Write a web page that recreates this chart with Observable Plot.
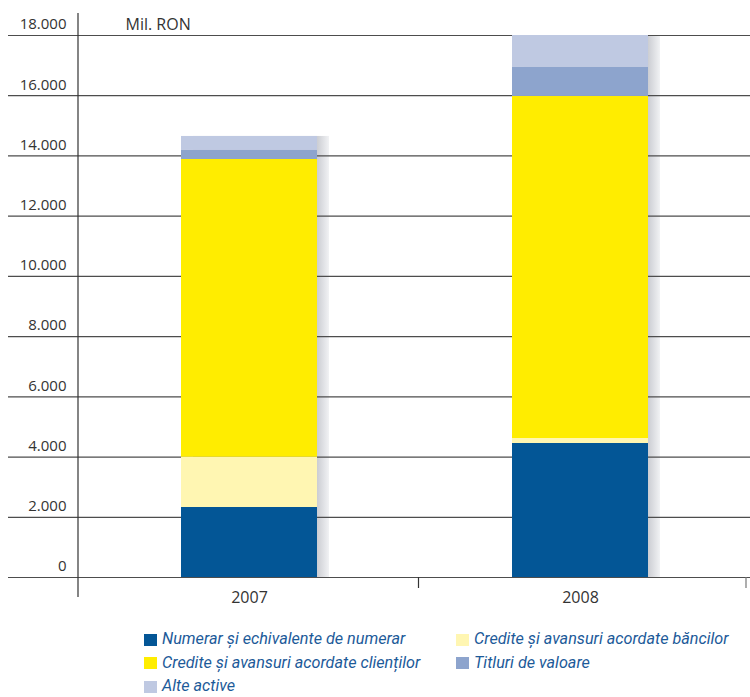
<!DOCTYPE html>
<html>
<head>
<meta charset="utf-8">
<script src="https://cdn.jsdelivr.net/npm/d3@7"></script>
<script src="https://cdn.jsdelivr.net/npm/@observablehq/plot@0.6"></script>
<style>
  html, body { margin: 0; padding: 0; background: #fff; }
  #wrap { position: relative; width: 750px; height: 697px; overflow: hidden; background: #fff; }
  .leg { position: absolute; display: flex; align-items: center; height: 13px; line-height: 1;
         font-family: Roboto, "Open Sans", sans-serif; font-style: italic; font-size: 16.2px; color: #1c5a99; white-space: nowrap; }
  .leg .sw { width: 13px; height: 12px; margin-right: 5px; flex: none; }
</style>
</head>
<body>
<div id="wrap"></div>
<script>
// ---- data ----
const years = ["2007", "2008"];
const seriesNames = [
  "Numerar și echivalente de numerar",
  "Credite și avansuri acordate băncilor",
  "Credite și avansuri acordate clienților",
  "Titluri de valoare",
  "Alte active"
];
const numerar = [2325, 4450];
const crediteBanci = [1670, 166];
const crediteClienti = [9887, 11359];
const titluri = [300, 963];
const alteActive = [465, 1062];
const seriesColors = ["#035696", "#FFF6B2", "#FFED00", "#8DA4CD", "#BFC9E2"];
const yTicks = [0, 2000, 4000, 6000, 8000, 10000, 12000, 14000, 16000, 18000];
const unitLabel = ["Mil. RON"];

// ---- build table ----
const seriesValues = [numerar, crediteBanci, crediteClienti, titluri, alteActive];
const table = seriesNames.flatMap((s, si) =>
  years.map((y, yi) => ({ year: y, series: s, value: seriesValues[si][yi] })));
const totals = years.map((y, yi) => ({ year: y, total: d3.sum(seriesValues, v => v[yi]) }));

const fmt = d3.formatLocale({ decimal: ",", thousands: ".", grouping: [3], currency: ["", ""] }).format(",");

const plot = Plot.plot({
  width: 750,
  height: 620,
  marginLeft: 80,
  marginRight: 0,
  marginTop: 35,
  marginBottom: 43,
  style: { fontFamily: "'Open Sans', sans-serif", fontSize: "16px", color: "#333", background: "transparent", overflow: "visible" },
  x: { domain: years, paddingInner: 0.589, paddingOuter: 0.305, label: null },
  y: { domain: [0, 18000], label: null },
  color: { domain: seriesNames, range: seriesColors },
  marks: [
    Plot.barY(totals, { x: "year", y: "total", dx: 12, fill: "url(#shadowGrad)" }),
    Plot.ruleY(yTicks, { stroke: "#4d4d4d", strokeWidth: 1.2, insetLeft: -72 }),
    Plot.barY(table, { x: "year", y: "value", fill: "series", order: seriesNames }),
    Plot.axisY({ ticks: yTicks, tickSize: 0, tickPadding: 14, tickFormat: fmt, dy: -11, label: null, fill: "#333", fontSize: 15 }),
    Plot.axisX({ tickSize: 0, tickPadding: 14, label: null, fill: "#333" }),
    Plot.text(unitLabel, { frameAnchor: "top-left", dx: 45, dy: -11, textAnchor: "start", lineAnchor: "middle", fill: "#333", fontSize: 16 })
  ]
});

// gradient for bar shadow + axis line and ticks
const svg = d3.select(plot);
const defs = svg.insert("defs", ":first-child");
const g = defs.append("linearGradient").attr("id", "shadowGrad").attr("x1", 0).attr("x2", 1).attr("y1", 0).attr("y2", 0);
g.append("stop").attr("offset", 0.9).attr("stop-color", "#c6c8ce");
g.append("stop").attr("offset", 1).attr("stop-color", "#f1f2f4");

const xs = plot.scale("x"), ys = plot.scale("y");
const y0 = ys.apply(0), yTop = ys.apply(18000);
const left = xs.range[0] - 2;
const c1 = xs.apply(years[0]) + xs.bandwidth / 2, c2 = xs.apply(years[1]) + xs.bandwidth / 2;
const axisG = svg.append("g").attr("stroke", "#333").attr("stroke-width", 1.2);
axisG.append("line").attr("x1", left).attr("x2", left).attr("y1", yTop - 22).attr("y2", y0 + 20);
axisG.append("line").attr("x1", (c1 + c2) / 2 + 4).attr("x2", (c1 + c2) / 2 + 4).attr("y1", y0).attr("y2", y0 + 11);
axisG.append("line").attr("x1", xs.range[1] - 4).attr("x2", xs.range[1] - 4).attr("y1", y0).attr("y2", y0 + 11).attr("stroke", "#777");

const wrap = document.getElementById("wrap");
wrap.appendChild(plot);

// legend
seriesNames.forEach((s, i) => {
  const col = i % 2, row = Math.floor(i / 2);
  const d = document.createElement("div");
  d.className = "leg";
  d.style.left = (144 + col * 312) + "px";
  d.style.top = (633 + row * 23.5) + "px";
  const sw = document.createElement("span");
  sw.className = "sw";
  sw.style.background = seriesColors[i];
  const t = document.createElement("span");
  t.textContent = s;
  d.appendChild(sw); d.appendChild(t);
  wrap.appendChild(d);
});
</script>
</body>
</html>
